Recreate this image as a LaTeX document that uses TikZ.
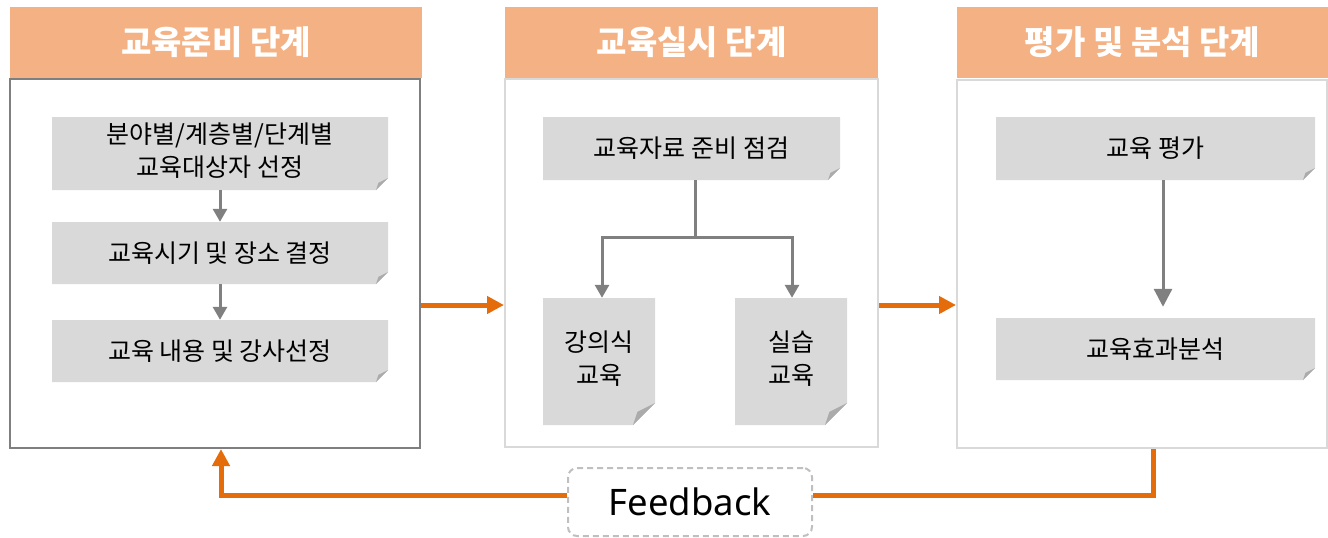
\documentclass[tikz,border=0pt]{standalone}
\usepackage{fontspec}
\newfontfamily\kr{Noto Sans CJK KR}
\newfontfamily\fbfont{Noto Sans}
\usetikzlibrary{arrows.meta,calc}
\definecolor{hdr}{HTML}{F4B183}
\definecolor{orn}{HTML}{E46C0A}
\definecolor{notegray}{HTML}{D9D9D9}
\definecolor{foldgray}{HTML}{ABABAB}
\definecolor{arrgray}{HTML}{808080}
\definecolor{darkbd}{HTML}{7F7F7F}
\definecolor{lightbd}{HTML}{D9D9D9}
\definecolor{dashbd}{HTML}{BFBFBF}
\def\nf{12pt}
\newcommand\twolines[3]{\raisebox{#1}{\begin{tabular}{@{}c@{}}#2\\#3\end{tabular}}}
\tikzset{
  foldsize/.store in=\nf,
  header/.style={fill=hdr, inner sep=0, text=white, font=\kr\fontsize{33}{38}\selectfont\bfseries, minimum height=71pt},
  stagebox/.style={draw=lightbd, line width=2pt, inner sep=0},
  note/.style={inner sep=0, align=center, font=\kr\fontsize{25}{33}\selectfont,
    path picture={
      \fill[notegray] (path picture bounding box.north west) -- (path picture bounding box.north east)
        -- ([yshift=\nf]path picture bounding box.south east) -- ([xshift=-\nf]path picture bounding box.south east)
        -- (path picture bounding box.south west) -- cycle;
      \fill[foldgray] ([yshift=\nf]path picture bounding box.south east) -- ([xshift=-\nf]path picture bounding box.south east)
        -- ([xshift={-0.8*\nf}, yshift={0.6*\nf}]path picture bounding box.south east) -- cycle;
    }},
  grayarrow/.style={draw=arrgray, line width=3pt, -{Triangle[length=13pt,width=14pt]}},
  orangearrow/.style={draw=orn, line width=5pt, -{Triangle[length=17pt,width=17pt]}},
  orangeline/.style={draw=orn, line width=5pt},
}
\begin{document}
\begin{tikzpicture}[x=1pt,y=-1pt]
\useasboundingbox (0,0) rectangle (1328,538);
% headers
\node[header, minimum width=412pt] (h1) at (216,42.5) {교육준비 단계};
\node[header, minimum width=373pt] (h2) at (691.5,42.5) {교육실시 단계};
\node[header, minimum width=371pt] (h3) at (1142.5,42.5) {평가 및 분석 단계};
% stage boxes
\node[stagebox, draw=darkbd, minimum width=410pt, minimum height=369pt] (b1) at (215,263.5) {};
\node[stagebox, minimum width=373pt, minimum height=368pt] (b2) at (691.5,263) {};
\node[stagebox, minimum width=370pt, minimum height=368pt] (b3) at (1142,264) {};
% stage 1 notes
\node[note, minimum width=336pt, minimum height=73pt] (n1) at (220,153.5) {\twolines{5pt}{분야별/계층별/단계별}{교육대상자 선정}};
\node[note, minimum width=336pt, minimum height=62pt] (n2) at (220,253) {교육시기 및 장소 결정};
\node[note, minimum width=336pt, minimum height=62pt] (n3) at (220,351) {교육 내용 및 강사선정};
\draw[grayarrow] (n1.south) -- (n2.north);
\draw[grayarrow] (n2.south) -- (n3.north);
% stage 2 notes
\node[note, minimum width=297pt, minimum height=63pt] (n4) at (691.5,148.5) {교육자료 준비 점검};
\node[note, foldsize=22pt, minimum width=112pt, minimum height=127pt] (n5) at (599,361.5) {\twolines{8pt}{강의식}{교육}};
\node[note, foldsize=22pt, minimum width=112pt, minimum height=127pt] (n6) at (791,361.5) {\twolines{8pt}{실습}{교육}};
\coordinate (br) at (695,237);
\draw[draw=arrgray, line width=3pt] ([xshift=3.5pt]n4.south) -- (br);
\draw[grayarrow] (br) -| ([xshift=3pt]n5.north);
\draw[grayarrow] (br) -| ([xshift=1pt]n6.north);
% stage 3 notes
\node[note, minimum width=319pt, minimum height=63pt] (n7) at (1155.5,148.5) {교육 평가};
\node[note, minimum width=319pt, minimum height=62pt] (n8) at (1155.5,349) {교육효과분석};
\draw[grayarrow, -{Triangle[length=18pt,width=18pt]}] ([xshift=7.5pt]n7.south) -- ([xshift=7.5pt,yshift=11pt]n8.north);
% stage connectors
\draw[orangearrow] (b1.east |- 0,305) -- (b2.west |- 0,305);
\draw[orangearrow] (b2.east |- 0,305) -- (b3.west |- 0,305);
% feedback
\node[draw=dashbd, dashed, dash pattern=on 6pt off 4pt, line width=2pt, rounded corners=9pt,
      minimum width=244pt, minimum height=68pt, inner sep=0, font=\fbfont\fontsize{36.5}{40}\selectfont] (fb) at (690,502) {Feedback};
\coordinate (fr) at (1153,449);
\coordinate (fl) at (221,449);
\draw[orangeline] (fr) |- ([yshift=7pt]fb.east);
\draw[orangearrow] ([yshift=7pt]fb.west) -| (fl);
\end{tikzpicture}
\end{document}
